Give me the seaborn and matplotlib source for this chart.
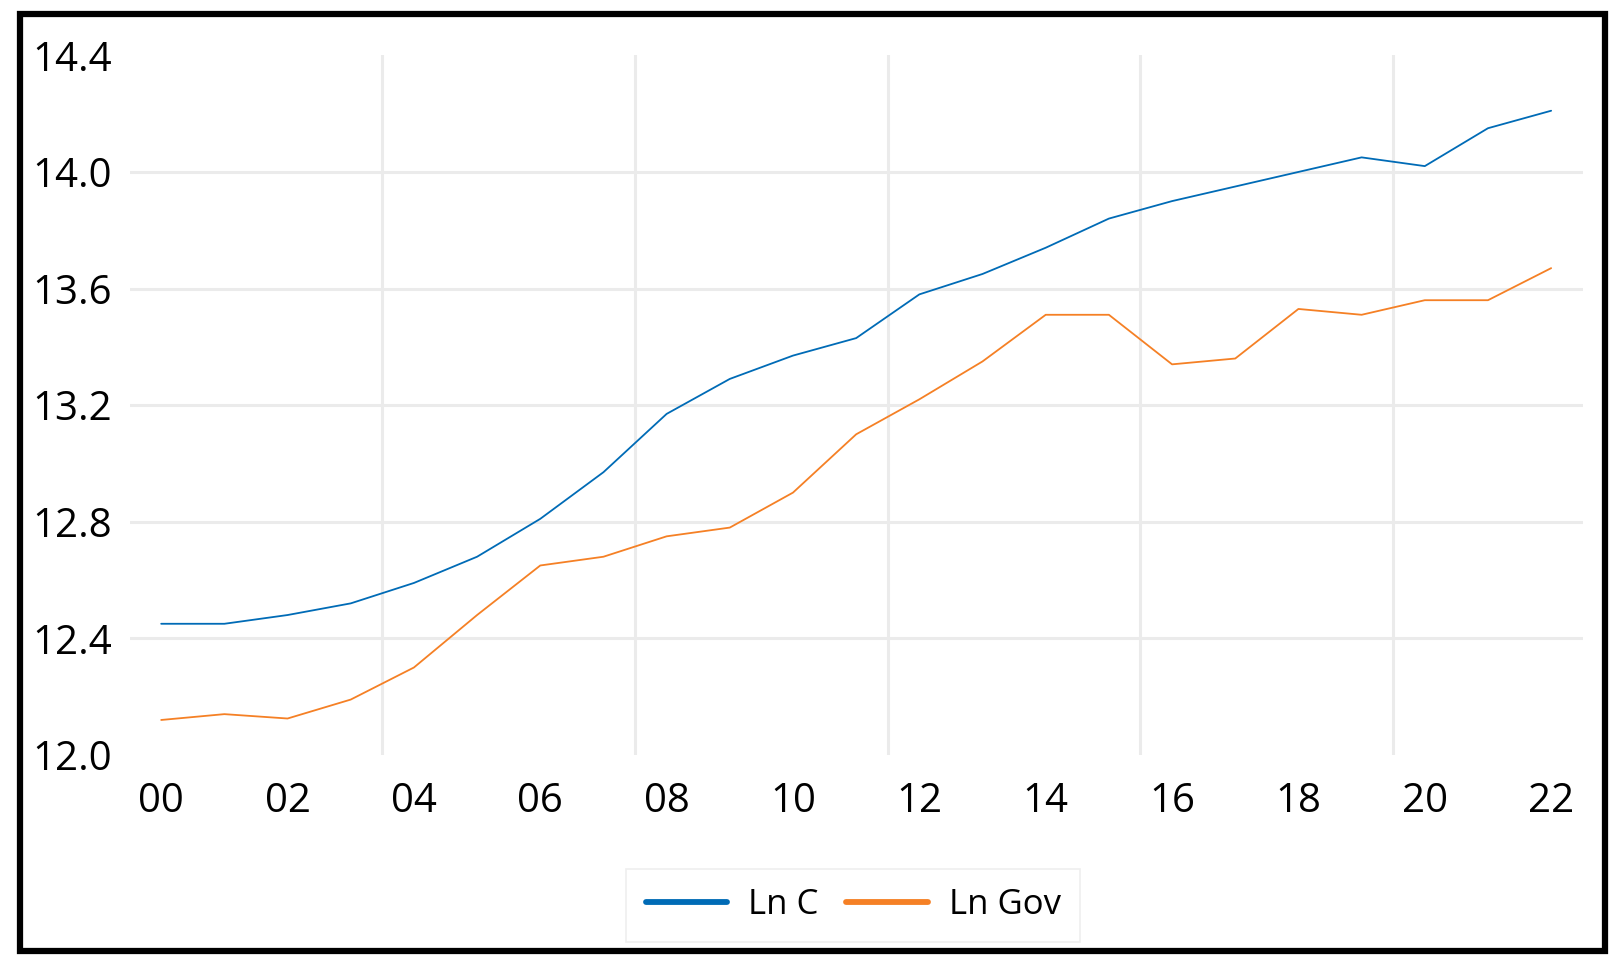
import numpy as np
import pandas as pd
import matplotlib
matplotlib.use("Agg")
import matplotlib.pyplot as plt
from matplotlib.patches import Rectangle
import seaborn as sns

# values
years = list(range(2000, 2023))
ln_c = [12.45, 12.45, 12.48, 12.52, 12.59, 12.68, 12.81, 12.97, 13.17, 13.29,
        13.37, 13.43, 13.58, 13.65, 13.74, 13.84, 13.90, 13.95, 14.00, 14.05,
        14.02, 14.15, 14.21]
ln_gov = [12.12, 12.14, 12.125, 12.19, 12.30, 12.48, 12.65, 12.68, 12.75, 12.78,
          12.90, 13.10, 13.22, 13.35, 13.51, 13.51, 13.34, 13.36, 13.53, 13.51,
          13.56, 13.56, 13.67]
series_names = ["Ln C", "Ln Gov"]
colors = ["#006BB6", "#F58025"]
y_ticks = [12.0, 12.4, 12.8, 13.2, 13.6, 14.0, 14.4]
x_ticks = list(range(2000, 2023, 2))
x_grid = [2003.5, 2007.5, 2011.5, 2015.5, 2019.5]

df = pd.DataFrame({"year": years * 2,
                   "value": ln_c + ln_gov,
                   "series": [series_names[0]] * len(years) + [series_names[1]] * len(years)})

sns.set_theme(style="white")
plt.rcParams["font.family"] = ["Open Sans", "DejaVu Sans"]

fig = plt.figure(figsize=(16.2, 9.71), dpi=100)
ax = fig.add_axes([0.080, 0.2225, 0.897, 0.7205])

# grid lines (inner ones only, like the original)
for yv in y_ticks[1:-1]:
    ax.axhline(yv, color="#EBEBEB", lw=2.2, zorder=0)
for xv in x_grid:
    ax.axvline(xv, color="#EBEBEB", lw=2.2, zorder=0)

sns.lineplot(data=df, x="year", y="value", hue="series", palette=colors,
             linewidth=1.3, ax=ax, legend=False)

ax.set_xlim(1999.5, 2022.5)
ax.set_ylim(12.0, 14.4)
ax.set_xticks(x_ticks)
ax.set_xticklabels([f"{y % 100:02d}" for y in x_ticks])
ax.set_yticks(y_ticks)
ax.set_yticklabels([f"{v:.1f}" for v in y_ticks])
ax.tick_params(axis="both", length=0, labelsize=29, colors="black")
ax.tick_params(axis="y", pad=70)
ax.tick_params(axis="x", pad=19)
for lab in ax.get_yticklabels():
    lab.set_ha("left")
ax.set_xlabel("")
ax.set_ylabel("")
for s in ax.spines.values():
    s.set_visible(False)

handles = [plt.Line2D([], [], color=c, lw=4.2) for c in colors]
leg = fig.legend(handles, series_names, loc="center", ncol=2,
                 bbox_to_anchor=(0.5266, 0.0675), bbox_transform=fig.transFigure,
                 fontsize=25, frameon=True, fancybox=False, handlelength=2.35,
                 handletextpad=0.6, columnspacing=0.8, borderpad=0.55,
                 labelcolor="black")
leg.get_frame().set_edgecolor("#EBEBEB")
leg.get_frame().set_linewidth(1.2)

# thick black frame around the whole picture
fig.patches.append(Rectangle((0.01265, 0.0201), 0.97835, 0.965, transform=fig.transFigure,
                             fill=False, edgecolor="black", linewidth=4.5))

fig.savefig("out.png", dpi=100)
